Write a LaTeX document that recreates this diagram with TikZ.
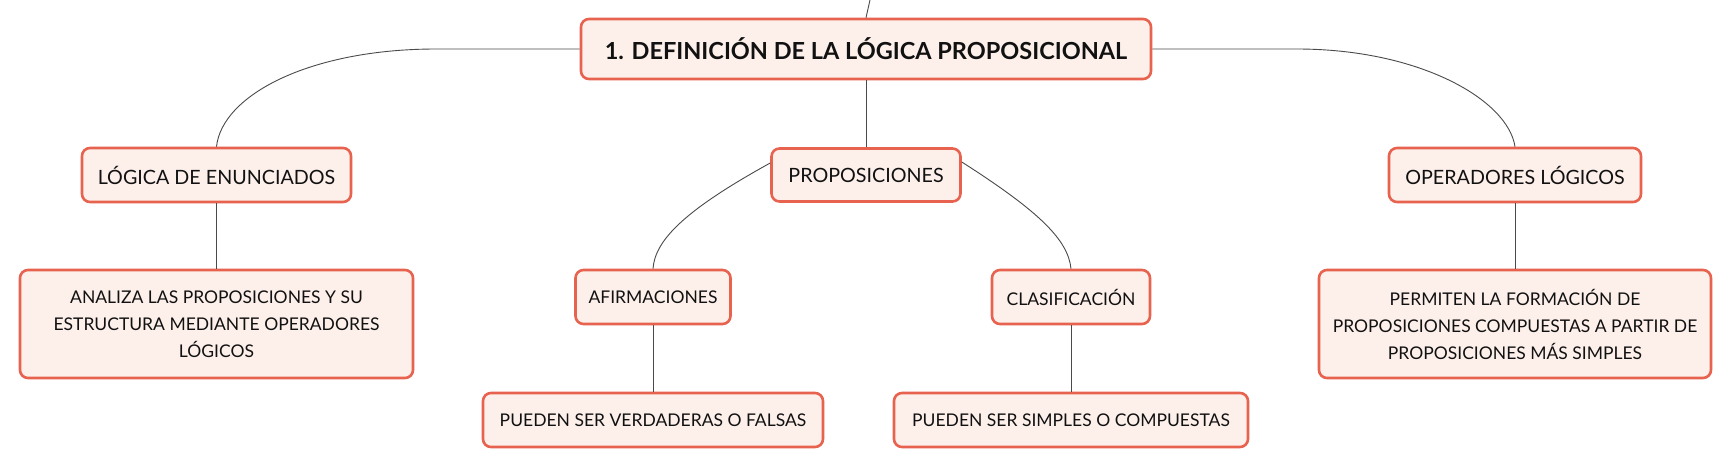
\documentclass[tikz,border=0pt]{standalone}
\usepackage{fontspec}
\setmainfont{Lato}
\definecolor{boxfill}{HTML}{FDF0EB}
\definecolor{boxdraw}{HTML}{E8634F}
\definecolor{linkc}{HTML}{4A4A4A}
\definecolor{txt}{HTML}{111111}
\begin{document}
\begin{tikzpicture}[x=1pt,y=-1pt,
  box/.style={draw=boxdraw,fill=boxfill,line width=2.6pt,rounded corners=8pt,
    inner sep=0pt,align=center,text=txt,font=\fontsize{17.5}{27}\selectfont},
  topicbox/.style={box,font=\fontsize{19.7}{27}\selectfont},
  mainbox/.style={box,font=\fontsize{23.5}{27}\selectfont\bfseries},
  link/.style={draw=linkc,line width=0.9pt}]
\useasboundingbox (0,0) rectangle (1733,467);
\fill[white] (0,0) rectangle (1733,467);
\node[mainbox,minimum width=570pt,minimum height=60pt] (main) at (866,49) {1. DEFINICIÓN DE LA LÓGICA PROPOSICIONAL};
\node[topicbox,minimum width=269pt,minimum height=54pt] (enun) at (216.5,175) {LÓGICA DE ENUNCIADOS};
\node[box,minimum width=393pt,minimum height=108pt] (anal) at (216.5,324) {ANALIZA LAS PROPOSICIONES Y SU\\ESTRUCTURA MEDIANTE OPERADORES\\LÓGICOS};
\node[topicbox,minimum width=189pt,minimum height=53pt] (prop) at (866,175) {PROPOSICIONES};
\node[box,minimum width=155pt,minimum height=54pt] (afir) at (653,297) {AFIRMACIONES};
\node[box,minimum width=340pt,minimum height=54pt] (verd) at (653,420) {PUEDEN SER VERDADERAS O FALSAS};
\node[box,minimum width=158pt,minimum height=54pt] (clas) at (1071,297) {CLASIFICACIÓN};
\node[box,minimum width=354pt,minimum height=54pt] (simp) at (1071,420) {PUEDEN SER SIMPLES O COMPUESTAS};
\node[topicbox,minimum width=252pt,minimum height=54pt] (oper) at (1515,175) {OPERADORES LÓGICOS};
\node[box,minimum width=392pt,minimum height=108pt] (perm) at (1515,324) {PERMITEN LA FORMACIÓN DE\\PROPOSICIONES COMPUESTAS A PARTIR DE\\PROPOSICIONES MÁS SIMPLES};
\coordinate (top) at (870,0);
\draw[link] (main.north) -- (top);
\draw[link] (main.west) -- (436,49) .. controls (310,49) and (222,95) .. (enun.north);
\draw[link] (main.east) -- (1297,49) .. controls (1420,49) and (1508,100) .. (oper.north);
\draw[link] (main.south) -- (prop.north);
\draw[link] (enun.south) -- (anal.north);
\draw[link] (oper.south) -- (perm.north);
\draw[link] ([yshift=12pt]prop.west) .. controls (685,210) and (655,240) .. (afir.north);
\draw[link] ([yshift=13pt]prop.east) .. controls (1040,212) and (1068,240) .. (clas.north);
\draw[link] (afir.south) -- (verd.north);
\draw[link] (clas.south) -- (simp.north);
\end{tikzpicture}
\end{document}
